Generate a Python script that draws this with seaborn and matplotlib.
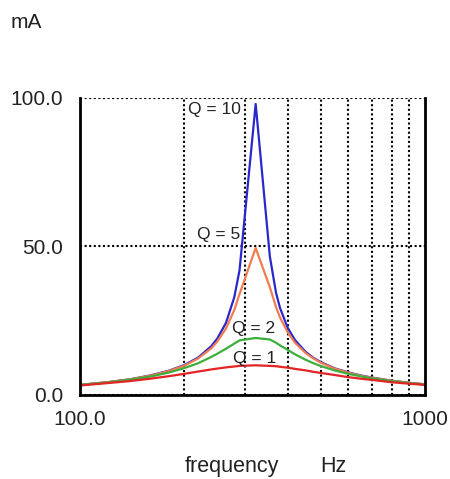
import numpy as np
import pandas as pd
import seaborn as sns
import matplotlib.pyplot as plt
from matplotlib.ticker import FixedLocator, FixedFormatter, NullFormatter

freq = [100, 120, 140, 160, 180, 200, 220, 240, 250, 265, 280, 290, 323,
        355, 370, 380, 400, 420, 450, 475, 500, 550, 600, 650, 700, 800, 900, 1000]

q10 = [3.4, 4.3, 5.3, 6.6, 8.1, 10.0, 12.6, 16.4, 19.0, 24.3, 32.9, 42.0, 98.0,
       46.7, 34.4, 29.3, 22.6, 18.5, 14.6, 12.5, 11.0, 8.9, 7.6, 6.6, 5.9, 4.8, 4.1, 3.6]
q5 = [3.4, 4.3, 5.3, 6.5, 8.0, 9.8, 12.3, 15.7, 18.0, 22.4, 28.6, 34.0, 49.5,
      36.3, 29.6, 26.1, 21.1, 17.6, 14.2, 12.3, 10.8, 8.8, 7.5, 6.5, 5.8, 4.8, 4.1, 3.6]
q2 = [3.4, 4.2, 5.2, 6.2, 7.5, 9.0, 10.7, 12.8, 13.9, 15.6, 17.3, 18.4, 19.2,
      18.7, 17.6, 16.7, 15.2, 13.7, 11.9, 10.7, 9.7, 8.2, 7.1, 6.3, 5.6, 4.7, 4.0, 3.5]
q1 = [3.2, 4.0, 4.7, 5.5, 6.3, 7.1, 7.9, 8.6, 8.9, 9.3, 9.6, 9.8, 10.0,
      9.8, 9.7, 9.5, 9.2, 8.8, 8.3, 7.8, 7.4, 6.7, 6.0, 5.5, 5.1, 4.3, 3.8, 3.4]

series = {"Q = 10": q10, "Q = 5": q5, "Q = 2": q2, "Q = 1": q1}
colors = {"Q = 10": "#2828cc", "Q = 5": "#f07c50", "Q = 2": "#3cae3c", "Q = 1": "#e42424"}

# label positions (Hz, mA)
label_x = {"Q = 10": 205.6, "Q = 5": 218.4, "Q = 2": 275.8, "Q = 1": 277.6}
label_y = {"Q = 10": 94.6, "Q = 5": 52.5, "Q = 2": 20.9, "Q = 1": 10.8}

df = pd.DataFrame({"freq": freq * 4,
                   "mA": q10 + q5 + q2 + q1,
                   "Q": [k for k in series for _ in freq]})

sns.set_style("white")
plt.rcParams["font.family"] = ["Liberation Sans", "DejaVu Sans"]

fig = plt.figure(figsize=(4.5, 4.79), dpi=100)
ax = fig.add_axes([80 / 450, 1 - 395 / 479, 345 / 450, 297 / 479])

sns.lineplot(data=df, x="freq", y="mA", hue="Q", palette=colors,
             linewidth=1.6, legend=False, ax=ax, zorder=3)

ax.set_xscale("log")
ax.set_xlim(100, 1000)
ax.set_ylim(0, 100)

ax.xaxis.set_major_locator(FixedLocator([100, 1000]))
ax.xaxis.set_major_formatter(FixedFormatter(["100.0", "1000"]))
ax.xaxis.set_minor_locator(FixedLocator([200, 300, 400, 500, 600, 700, 800, 900]))
ax.xaxis.set_minor_formatter(NullFormatter())
ax.yaxis.set_major_locator(FixedLocator([0, 50, 100]))
ax.yaxis.set_major_formatter(FixedFormatter(["0.0", "50.0", "100.0"]))

ax.tick_params(axis="both", which="both", length=0, labelsize=15, labelcolor="#222222")
ax.tick_params(axis="x", pad=11)
ax.tick_params(axis="y", pad=12)

dot = (0, (1, 1.2))
ax.grid(False)
ax.xaxis.grid(True, which="minor", color="black", linestyle=dot, linewidth=1.5)
ax.yaxis.grid(True, which="major", color="black", linestyle=dot, linewidth=1.5)

for side in ["left", "right", "bottom"]:
    ax.spines[side].set_color("black")
    ax.spines[side].set_linewidth(2)
    ax.spines[side].set_zorder(4)
ax.spines["top"].set_visible(False)

ax.set_xlabel("")
ax.set_ylabel("")

# curve labels
for k in series:
    ax.text(label_x[k], label_y[k], k, fontsize=12.5, va="baseline", ha="left",
            color="#222222", zorder=5)

fig.text(11 / 450, 1 - 28 / 479, "mA", fontsize=15, va="baseline", ha="left", color="#222222")
fig.text(185 / 450, 1 - 472 / 479, "frequency", fontsize=15.5, va="baseline", ha="left", color="#222222")
fig.text(320 / 450, 1 - 472 / 479, "Hz", fontsize=15.5, va="baseline", ha="left", color="#222222")

fig.savefig("out.png", dpi=100, facecolor="white")
